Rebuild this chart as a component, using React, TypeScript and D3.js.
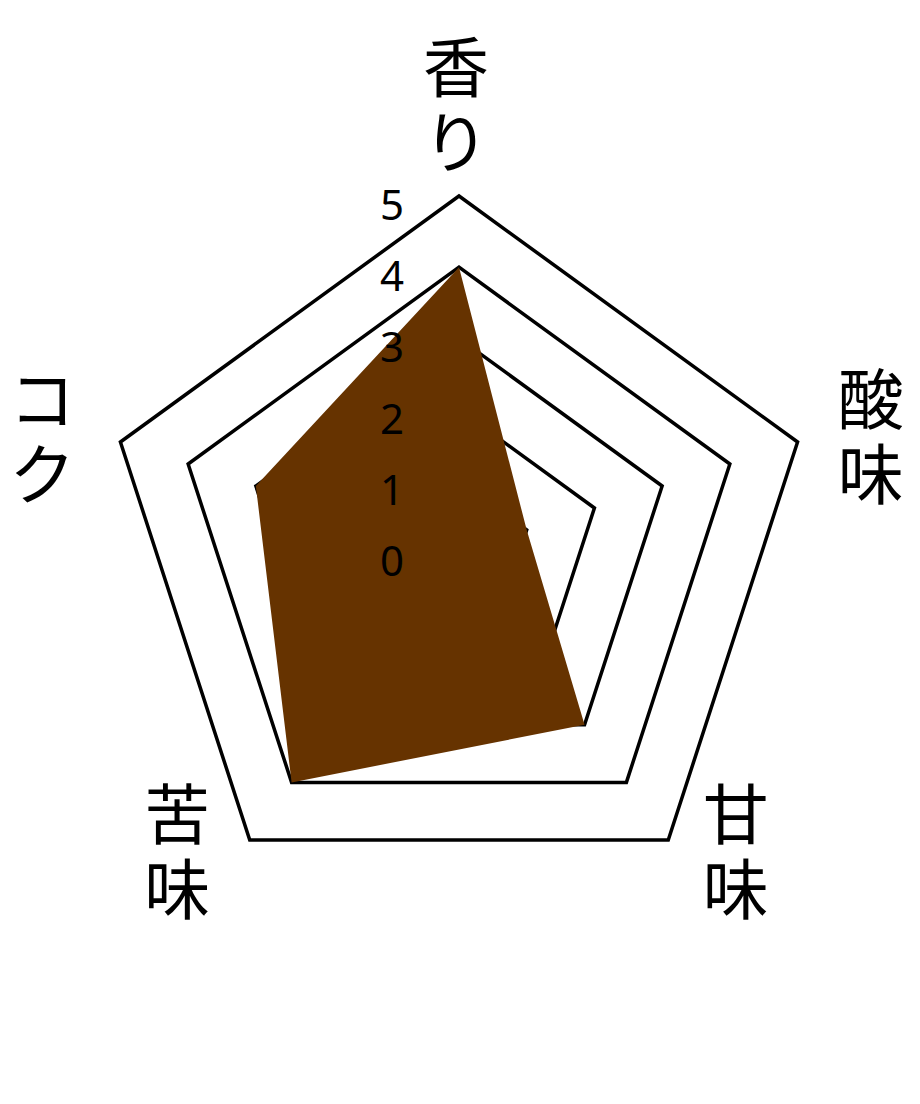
import { useEffect, useRef } from "react"
import * as d3 from "d3"

// axes, clockwise from the top
const axisLabels = ["香り", "酸味", "甘味", "苦味", "コク"]
const values = [4, 1, 3, 4, 3]
const gridLevels = [1, 2, 3, 4, 5]
const tickValues = [0, 1, 2, 3, 4, 5]

export default function App() {
  const svgRef = useRef<SVGSVGElement>(null)

  useEffect(() => {
    if (!svgRef.current) return
    const svg = d3.select(svgRef.current)
    svg.selectAll("*").remove()

    const width = 920
    const height = 1104
    const cx = 459
    const cy = 552
    const font = "'Noto Sans CJK JP', 'Noto Sans', sans-serif"

    svg.attr("width", width).attr("height", height)

    const r = d3.scaleLinear().domain([0, 5]).range([0, 356])
    const angle = (i: number) => (i * 2 * Math.PI) / axisLabels.length

    const g = svg.append("g").attr("transform", `translate(${cx},${cy})`)

    // Grid pentagons
    const ring = d3.lineRadial<number>()
      .angle((_d, i) => angle(i))
      .radius(d => r(d))
      .curve(d3.curveLinearClosed)

    g.append("g")
      .selectAll("path")
      .data(gridLevels)
      .join("path")
      .attr("d", lvl => ring(axisLabels.map(() => lvl)))
      .attr("fill", "none")
      .attr("stroke", "#000")
      .attr("stroke-width", 3.5)

    // Data area
    g.append("path")
      .attr("d", ring(values))
      .attr("fill", "#663300")

    // Tick labels
    g.append("g")
      .selectAll("text")
      .data(tickValues)
      .join("text")
      .attr("x", -67)
      .attr("y", d => -r(d) + 24)
      .attr("text-anchor", "middle")
      .attr("font-family", "'Noto Sans', sans-serif")
      .attr("font-size", 42)
      .attr("fill", "#000")
      .text(d => d)

    // Axis labels, written vertically
    const labelRadius = r(5) + 16
    const pitch = 75
    axisLabels.forEach((label, i) => {
      const a = angle(i)
      const px = labelRadius * Math.sin(a)
      const py = -labelRadius * Math.cos(a)
      const chars = Array.from(label)
      const n = chars.length
      let anchor = "middle"
      let x = px - 3
      let firstY = py - pitch / 2 - pitch * (n - 1)
      if (Math.abs(Math.sin(a)) > 0.01) {
        anchor = Math.sin(a) > 0 ? "start" : "end"
        x = px + (Math.sin(a) > 0 ? 25 : -30)
        firstY = py - (pitch * (n - 1)) / 2
      }
      const t = g.append("text")
        .attr("text-anchor", anchor)
        .attr("font-family", font)
        .attr("font-size", 66)
        .attr("fill", "#000")
      chars.forEach((ch, k) => {
        t.append("tspan")
          .attr("x", x)
          .attr("y", firstY + k * pitch - 5)
          .attr("dominant-baseline", "central")
          .text(ch)
      })
    })
  }, [])

  return (
    <svg ref={svgRef} style={{ position: "absolute", left: 0, top: 0, background: "#fff" }}></svg>
  )
}
